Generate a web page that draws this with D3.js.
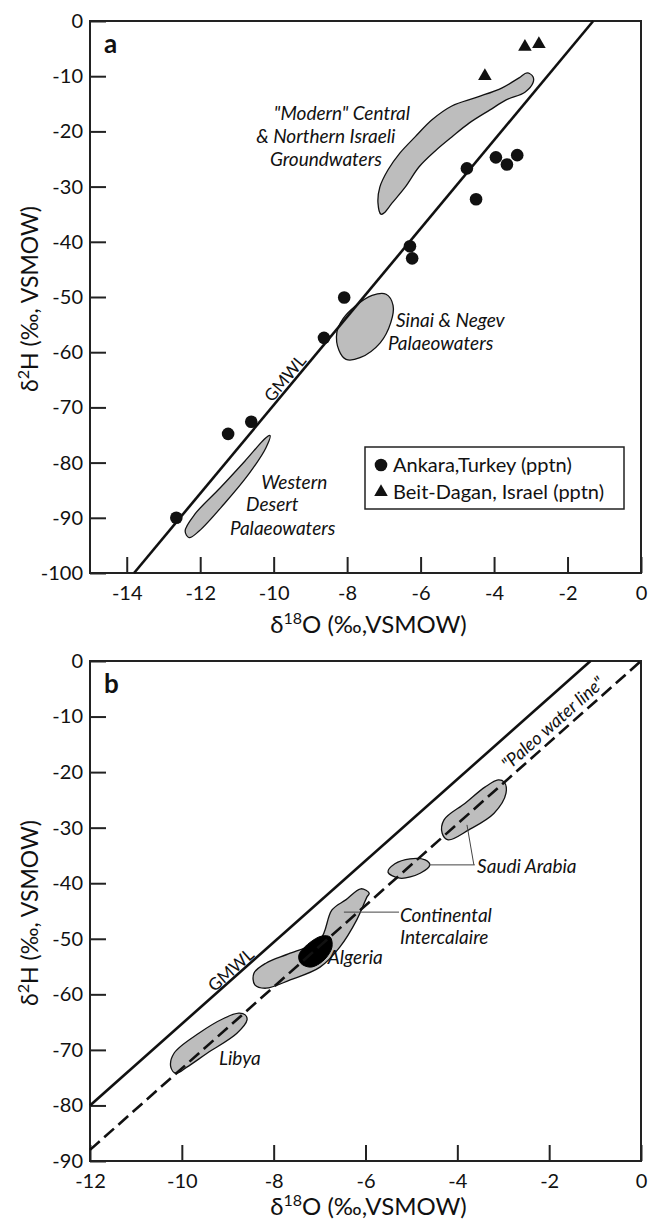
<!DOCTYPE html>
<html>
<head>
<meta charset="utf-8">
<script src="https://cdn.jsdelivr.net/npm/d3@7"></script>
<style>
  body { margin: 0; background: #fff; }
  svg { display: block; }
  text { font-family: Lato, "DejaVu Sans", sans-serif; fill: #111; }
</style>
</head>
<body>
<script>
// ---- panel a data ----
const ankaraX = [-12.65, -11.24, -10.61, -8.63, -8.08, -6.29, -6.23, -4.74, -4.49, -3.95, -3.65, -3.37];
const ankaraY = [-90.0, -74.8, -72.6, -57.4, -50.1, -40.8, -43.0, -26.7, -32.3, -24.7, -26.0, -24.3];
const beitX = [-4.25, -3.16, -2.78];
const beitY = [-10.0, -4.7, -4.2];

const gmwlA = [[-13.8, -100], [-1.3, 0]];

const modernBlob = [[-7.08, -35.0], [-7.16, -33.0], [-7.11, -30.1], [-6.89, -27.0], [-6.56, -23.9],
  [-6.15, -21.0], [-5.69, -17.9], [-5.15, -15.4], [-4.46, -13.8], [-3.78, -12.1], [-3.32, -10.3],
  [-3.10, -9.4], [-2.94, -10.1], [-2.94, -11.2], [-3.16, -12.9], [-3.67, -14.3], [-4.11, -16.1],
  [-4.68, -18.5], [-5.15, -21.0], [-5.58, -23.4], [-6.04, -26.4], [-6.42, -30.1], [-6.78, -33.0],
  [-7.00, -34.8]];
const sinaiBlob = [[-7.32, -49.7], [-6.94, -49.5], [-6.75, -51.5], [-6.81, -54.6], [-7.10, -58.3],
  [-7.65, -61.0], [-8.03, -61.3], [-8.22, -59.7], [-8.28, -56.4], [-8.11, -53.9], [-7.79, -51.7]];
const westernBlob = [[-10.10, -75.1], [-10.21, -77.3], [-10.67, -82.0], [-11.35, -87.5], [-12.03, -92.4],
  [-12.30, -93.6], [-12.41, -92.4], [-12.14, -89.3], [-11.46, -84.6], [-10.78, -79.7], [-10.21, -75.5]];

const xTicksA = [-14, -12, -10, -8, -6, -4, -2, 0];
const yTicksA = [0, -10, -20, -30, -40, -50, -60, -70, -80, -90, -100];

// ---- panel b data ----
const gmwlB = [[-12, -80], [-1.1, 0]];
const paleoB = [[-12, -88], [0, 0]];

const saudiBlob = [[-2.98, -21.8], [-2.94, -23.8], [-3.20, -27.4], [-3.75, -30.4], [-4.20, -32.2],
  [-4.33, -31.0], [-4.29, -28.6], [-3.83, -25.6], [-3.40, -22.7], [-3.11, -21.4]];
const saudiSmallBlob = [[-5.51, -38.0], [-5.36, -36.5], [-5.03, -35.6], [-4.70, -35.8], [-4.60, -36.7],
  [-4.81, -38.2], [-5.25, -39.1]];
const continentalBlob = [[-5.92, -41.8], [-6.10, -41.0], [-6.43, -43.0], [-6.73, -44.8], [-6.99, -50.2],
  [-7.64, -52.6], [-8.17, -54.4], [-8.43, -56.2], [-8.41, -58.3], [-8.17, -58.9], [-7.64, -57.4],
  [-6.99, -55.1], [-6.56, -51.5], [-6.19, -46.6], [-5.97, -42.5]];
const algeriaBlob = [[-6.77, -49.7], [-6.73, -51.5], [-6.90, -53.8], [-7.19, -55.1], [-7.41, -54.4],
  [-7.45, -52.9], [-7.23, -50.8], [-6.95, -49.5]];
const libyaBlob = [[-8.62, -63.7], [-8.58, -64.6], [-8.80, -67.0], [-9.45, -70.6], [-9.89, -73.1],
  [-10.13, -74.2], [-10.24, -73.1], [-10.17, -70.6], [-9.63, -67.0], [-9.08, -64.3], [-8.76, -63.4]];

const xTicksB = [-12, -10, -8, -6, -4, -2, 0];
const yTicksB = [0, -10, -20, -30, -40, -50, -60, -70, -80, -90];

// annotation text, placed in data units
const labelsA = [
  { t: '"Modern" Central', x: -8.14, y: -17.9, a: "middle" },
  { t: "& Northern Israeli", x: -8.58, y: -22.1, a: "middle" },
  { t: "Groundwaters", x: -8.58, y: -26.3, a: "middle" },
  { t: "Sinai & Negev", x: -6.67, y: -55.4, a: "start" },
  { t: "Palaeowaters", x: -6.89, y: -59.6, a: "start" },
  { t: "Western", x: -10.34, y: -84.8, a: "start" },
  { t: "Desert", x: -10.75, y: -88.8, a: "start" },
  { t: "Palaeowaters", x: -11.19, y: -93.1, a: "start" }
];
const labelsB = [
  { t: "Saudi Arabia", x: -3.57, y: -38.2, a: "start" },
  { t: "Continental", x: -5.25, y: -47.0, a: "start" },
  { t: "Intercalaire", x: -5.25, y: -50.9, a: "start" },
  { t: "Algeria", x: -6.82, y: -54.5, a: "start" },
  { t: "Libya", x: -9.19, y: -72.7, a: "start" }
];
const leadersB = [
  [[-3.79, -29.5], [-3.64, -36.7]],
  [[-4.62, -36.7], [-3.62, -36.7]],
  [[-6.47, -45.2], [-5.27, -45.2]]
];

const W = 650, H = 1222;
const svg = d3.select("body").append("svg").attr("width", W).attr("height", H);

const xA = d3.scaleLinear().domain([-15, 0]).range([90, 641]);
const yA = d3.scaleLinear().domain([-100, 0]).range([573, 21]);
const xB = d3.scaleLinear().domain([-12, 0]).range([90, 641]);
const yB = d3.scaleLinear().domain([-90, 0]).range([1161, 661]);

const fmt = d => String(d);

function frameAndAxes(x, y, xTicks, yTicks, letter, titleDy) {
  const g = svg.append("g");
  const [x0, x1] = x.range();
  const [y1, y0] = y.range();

  g.append("g")
    .attr("transform", `translate(0,${y1})`)
    .call(d3.axisBottom(x).tickValues(xTicks).tickSize(-16).tickPadding(13).tickFormat(fmt))
    .call(s => s.select(".domain").remove())
    .call(s => s.selectAll("line").attr("stroke", "#222").attr("stroke-width", 2))
    .call(s => s.selectAll("text").attr("font-size", 20).attr("fill", "#111").attr("font-family", "Lato"));

  g.append("g")
    .attr("transform", `translate(${x0},0)`)
    .call(d3.axisLeft(y).tickValues(yTicks).tickSize(-16).tickPadding(7).tickFormat(fmt))
    .call(s => s.select(".domain").remove())
    .call(s => s.selectAll("line").attr("stroke", "#222").attr("stroke-width", 2))
    .call(s => s.selectAll("text").attr("font-size", 20).attr("fill", "#111").attr("font-family", "Lato"));

  g.append("rect")
    .attr("x", x0).attr("y", y0)
    .attr("width", x1 - x0).attr("height", y1 - y0)
    .attr("fill", "none").attr("stroke", "#222").attr("stroke-width", 2);

  g.append("text")
    .attr("x", x0 + 14).attr("y", y0 + 32)
    .attr("font-size", 26).attr("font-weight", "bold")
    .text(letter);

  // x title
  const xt = g.append("text")
    .attr("x", (x0 + x1) / 2 + 3).attr("y", y1 + titleDy)
    .attr("text-anchor", "middle").attr("font-size", 24);
  xt.append("tspan").text("δ");
  xt.append("tspan").attr("dy", -9).attr("font-size", 16).text("18");
  xt.append("tspan").attr("dy", 9).text("O (‰,VSMOW)");

  // y title
  const yt = g.append("text")
    .attr("transform", `translate(38,${(y0 + y1) / 2 + 2}) rotate(-90)`)
    .attr("text-anchor", "middle").attr("font-size", 23);
  yt.append("tspan").text("δ");
  yt.append("tspan").attr("dy", -9).attr("font-size", 16).text("2");
  yt.append("tspan").attr("dy", 9).text("H (‰, VSMOW)");
}

const blobLine = (x, y) => d3.line().x(d => x(d[0])).y(d => y(d[1])).curve(d3.curveCatmullRomClosed.alpha(0.5));
const straight = (x, y) => d3.line().x(d => x(d[0])).y(d => y(d[1]));

function slopeAngle(x, y, seg) {
  const dx = x(seg[1][0]) - x(seg[0][0]);
  const dy = y(seg[1][1]) - y(seg[0][1]);
  return Math.atan2(dy, dx) * 180 / Math.PI;
}

// ================= panel a =================
frameAndAxes(xA, yA, xTicksA, yTicksA, "a", 60);

const gA = svg.append("g");
gA.selectAll("path.blob")
  .data([modernBlob, sinaiBlob, westernBlob])
  .join("path")
  .attr("class", "blob")
  .attr("d", blobLine(xA, yA))
  .attr("fill", "#bdbdbd").attr("stroke", "#111").attr("stroke-width", 1.3);

gA.append("path")
  .attr("d", straight(xA, yA)(gmwlA))
  .attr("stroke", "#111").attr("stroke-width", 2.6).attr("fill", "none");

gA.selectAll("circle.ank")
  .data(d3.zip(ankaraX, ankaraY))
  .join("circle")
  .attr("class", "ank")
  .attr("cx", d => xA(d[0])).attr("cy", d => yA(d[1]))
  .attr("r", 6.3).attr("fill", "#111");

const tri = d3.symbol(d3.symbolTriangle).size(80);
gA.selectAll("path.beit")
  .data(d3.zip(beitX, beitY))
  .join("path")
  .attr("class", "beit")
  .attr("d", tri)
  .attr("transform", d => `translate(${xA(d[0])},${yA(d[1])})`)
  .attr("fill", "#111");

gA.selectAll("text.lab")
  .data(labelsA)
  .join("text")
  .attr("class", "lab")
  .attr("x", d => xA(d.x)).attr("y", d => yA(d.y))
  .attr("text-anchor", d => d.a)
  .attr("font-size", 19).attr("font-style", "italic")
  .text(d => d.t);

const angA = slopeAngle(xA, yA, gmwlA);
gA.append("text")
  .attr("transform", `translate(${xA(-9.69)},${yA(-64.7)}) rotate(${angA})`)
  .attr("text-anchor", "middle").attr("dy", "0.35em")
  .attr("font-size", 17)
  .text("GMWL");

// legend
const lg = gA.append("g");
lg.append("rect")
  .attr("x", 365).attr("y", 447).attr("width", 259).attr("height", 62)
  .attr("fill", "#fff").attr("stroke", "#222").attr("stroke-width", 1.5);
lg.append("circle").attr("cx", 381).attr("cy", 465).attr("r", 6.3).attr("fill", "#111");
lg.append("path").attr("d", tri).attr("transform", "translate(381,492)").attr("fill", "#111");
lg.append("text").attr("x", 393).attr("y", 472).attr("font-size", 20).text("Ankara,Turkey (pptn)");
lg.append("text").attr("x", 393).attr("y", 499).attr("font-size", 20).text("Beit-Dagan, Israel (pptn)");

// ================= panel b =================
frameAndAxes(xB, yB, xTicksB, yTicksB, "b", 54);

const gB = svg.append("g");
gB.selectAll("path.blob")
  .data([saudiBlob, saudiSmallBlob, continentalBlob, libyaBlob])
  .join("path")
  .attr("class", "blob")
  .attr("d", blobLine(xB, yB))
  .attr("fill", "#bdbdbd").attr("stroke", "#111").attr("stroke-width", 1.3);

gB.append("path")
  .attr("d", blobLine(xB, yB)(algeriaBlob))
  .attr("fill", "#000").attr("stroke", "#000").attr("stroke-width", 1);

gB.append("path")
  .attr("d", straight(xB, yB)(gmwlB))
  .attr("stroke", "#111").attr("stroke-width", 2.6).attr("fill", "none");

gB.append("path")
  .attr("d", straight(xB, yB)(paleoB))
  .attr("stroke", "#111").attr("stroke-width", 2.6).attr("fill", "none")
  .attr("stroke-dasharray", "13,6");

gB.selectAll("path.leader")
  .data(leadersB)
  .join("path")
  .attr("class", "leader")
  .attr("d", straight(xB, yB))
  .attr("stroke", "#444").attr("stroke-width", 1).attr("fill", "none");

gB.selectAll("text.lab")
  .data(labelsB)
  .join("text")
  .attr("class", "lab")
  .attr("x", d => xB(d.x)).attr("y", d => yB(d.y))
  .attr("text-anchor", d => d.a)
  .attr("font-size", 19).attr("font-style", "italic")
  .text(d => d.t);

const angB = slopeAngle(xB, yB, gmwlB);
gB.append("text")
  .attr("transform", `translate(${xB(-8.93)},${yB(-55.6)}) rotate(${angB})`)
  .attr("text-anchor", "middle").attr("dy", "0.35em")
  .attr("font-size", 17)
  .text("GMWL");

gB.append("text")
  .attr("transform", `translate(${xB(-1.92)},${yB(-11.2)}) rotate(${slopeAngle(xB, yB, paleoB)})`)
  .attr("text-anchor", "middle").attr("dy", "0.35em")
  .attr("font-size", 18).attr("font-style", "italic")
  .text('"Paleo water line"');
</script>
</body>
</html>
